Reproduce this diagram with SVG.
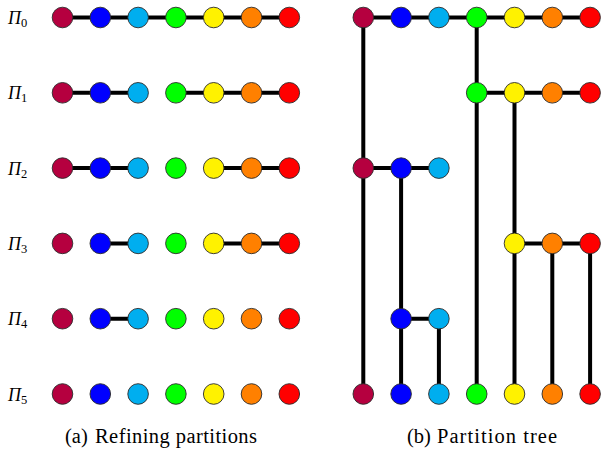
<svg xmlns="http://www.w3.org/2000/svg" width="603" height="457" viewBox="0 0 603 457">
<style>
.e{stroke:#000;stroke-width:4;fill:none}
circle{stroke:#2a2a2a;stroke-width:0.9}
.c1{fill:#B5003F}.c2{fill:#0000FF}.c3{fill:#00AEEF}.c4{fill:#00FF00}.c5{fill:#FFF200}.c6{fill:#FF8000}.c7{fill:#FF0000}
text{font-family:'Liberation Serif','Times New Roman','DejaVu Serif',Times,serif;fill:#000}
</style>
<g id="connectors">
<path class="e" d="M62.5 17.5H289.3"/>
<path class="e" d="M62.5 92.8H138.1M175.9 92.8H289.3"/>
<path class="e" d="M62.5 168.1H138.1M213.7 168.1H289.3"/>
<path class="e" d="M100.3 243.4H138.1M213.7 243.4H289.3"/>
<path class="e" d="M100.3 318.7H138.1"/>
<path class="e" d="M363.3 17.5H590.1"/>
<path class="e" d="M476.7 92.8H590.1"/>
<path class="e" d="M363.3 168.1H438.9"/>
<path class="e" d="M514.5 243.4H590.1"/>
<path class="e" d="M401.1 318.7H438.9"/>
<path class="e" d="M363.3 17.5V394M476.7 17.5V394M401.1 168.1V394M514.5 92.8V394M438.9 318.7V394M552.3 243.4V394M590.1 243.4V394"/>
</g>
<g id="labels">
<g font-style="italic" font-size="18">
<text x="8" y="24">Π<tspan font-style="normal" font-size="12.5" dy="3">0</tspan></text>
<text x="8" y="99.3">Π<tspan font-style="normal" font-size="12.5" dy="3">1</tspan></text>
<text x="8" y="174.6">Π<tspan font-style="normal" font-size="12.5" dy="3">2</tspan></text>
<text x="8" y="249.9">Π<tspan font-style="normal" font-size="12.5" dy="3">3</tspan></text>
<text x="8" y="325.2">Π<tspan font-style="normal" font-size="12.5" dy="3">4</tspan></text>
<text x="8" y="400.5">Π<tspan font-style="normal" font-size="12.5" dy="3">5</tspan></text>
</g>
<g font-size="20.5">
<text x="65" y="443">(a)</text>
<text x="95" y="443" textLength="162">Refining partitions</text>
<text x="407" y="443">(b)</text>
<text x="437" y="443" textLength="120">Partition tree</text>
</g>
</g>
<g id="left-nodes">
<g id="a0-1"><circle class="c1" cx="62.5" cy="17.5" r="10.3"/></g>
<g id="a0-2"><circle class="c2" cx="100.3" cy="17.5" r="10.3"/></g>
<g id="a0-3"><circle class="c3" cx="138.1" cy="17.5" r="10.3"/></g>
<g id="a0-4"><circle class="c4" cx="175.9" cy="17.5" r="10.3"/></g>
<g id="a0-5"><circle class="c5" cx="213.7" cy="17.5" r="10.3"/></g>
<g id="a0-6"><circle class="c6" cx="251.5" cy="17.5" r="10.3"/></g>
<g id="a0-7"><circle class="c7" cx="289.3" cy="17.5" r="10.3"/></g>
<g id="a1-1"><circle class="c1" cx="62.5" cy="92.8" r="10.3"/></g>
<g id="a1-2"><circle class="c2" cx="100.3" cy="92.8" r="10.3"/></g>
<g id="a1-3"><circle class="c3" cx="138.1" cy="92.8" r="10.3"/></g>
<g id="a1-4"><circle class="c4" cx="175.9" cy="92.8" r="10.3"/></g>
<g id="a1-5"><circle class="c5" cx="213.7" cy="92.8" r="10.3"/></g>
<g id="a1-6"><circle class="c6" cx="251.5" cy="92.8" r="10.3"/></g>
<g id="a1-7"><circle class="c7" cx="289.3" cy="92.8" r="10.3"/></g>
<g id="a2-1"><circle class="c1" cx="62.5" cy="168.1" r="10.3"/></g>
<g id="a2-2"><circle class="c2" cx="100.3" cy="168.1" r="10.3"/></g>
<g id="a2-3"><circle class="c3" cx="138.1" cy="168.1" r="10.3"/></g>
<g id="a2-4"><circle class="c4" cx="175.9" cy="168.1" r="10.3"/></g>
<g id="a2-5"><circle class="c5" cx="213.7" cy="168.1" r="10.3"/></g>
<g id="a2-6"><circle class="c6" cx="251.5" cy="168.1" r="10.3"/></g>
<g id="a2-7"><circle class="c7" cx="289.3" cy="168.1" r="10.3"/></g>
<g id="a3-1"><circle class="c1" cx="62.5" cy="243.4" r="10.3"/></g>
<g id="a3-2"><circle class="c2" cx="100.3" cy="243.4" r="10.3"/></g>
<g id="a3-3"><circle class="c3" cx="138.1" cy="243.4" r="10.3"/></g>
<g id="a3-4"><circle class="c4" cx="175.9" cy="243.4" r="10.3"/></g>
<g id="a3-5"><circle class="c5" cx="213.7" cy="243.4" r="10.3"/></g>
<g id="a3-6"><circle class="c6" cx="251.5" cy="243.4" r="10.3"/></g>
<g id="a3-7"><circle class="c7" cx="289.3" cy="243.4" r="10.3"/></g>
<g id="a4-1"><circle class="c1" cx="62.5" cy="318.7" r="10.3"/></g>
<g id="a4-2"><circle class="c2" cx="100.3" cy="318.7" r="10.3"/></g>
<g id="a4-3"><circle class="c3" cx="138.1" cy="318.7" r="10.3"/></g>
<g id="a4-4"><circle class="c4" cx="175.9" cy="318.7" r="10.3"/></g>
<g id="a4-5"><circle class="c5" cx="213.7" cy="318.7" r="10.3"/></g>
<g id="a4-6"><circle class="c6" cx="251.5" cy="318.7" r="10.3"/></g>
<g id="a4-7"><circle class="c7" cx="289.3" cy="318.7" r="10.3"/></g>
<g id="a5-1"><circle class="c1" cx="62.5" cy="394" r="10.3"/></g>
<g id="a5-2"><circle class="c2" cx="100.3" cy="394" r="10.3"/></g>
<g id="a5-3"><circle class="c3" cx="138.1" cy="394" r="10.3"/></g>
<g id="a5-4"><circle class="c4" cx="175.9" cy="394" r="10.3"/></g>
<g id="a5-5"><circle class="c5" cx="213.7" cy="394" r="10.3"/></g>
<g id="a5-6"><circle class="c6" cx="251.5" cy="394" r="10.3"/></g>
<g id="a5-7"><circle class="c7" cx="289.3" cy="394" r="10.3"/></g>
</g>
<g id="right-nodes">
<g id="b0-1"><circle class="c1" cx="363.3" cy="17.5" r="10.3"/></g>
<g id="b0-2"><circle class="c2" cx="401.1" cy="17.5" r="10.3"/></g>
<g id="b0-3"><circle class="c3" cx="438.9" cy="17.5" r="10.3"/></g>
<g id="b0-4"><circle class="c4" cx="476.7" cy="17.5" r="10.3"/></g>
<g id="b0-5"><circle class="c5" cx="514.5" cy="17.5" r="10.3"/></g>
<g id="b0-6"><circle class="c6" cx="552.3" cy="17.5" r="10.3"/></g>
<g id="b0-7"><circle class="c7" cx="590.1" cy="17.5" r="10.3"/></g>
<g id="b1-4"><circle class="c4" cx="476.7" cy="92.8" r="10.3"/></g>
<g id="b1-5"><circle class="c5" cx="514.5" cy="92.8" r="10.3"/></g>
<g id="b1-6"><circle class="c6" cx="552.3" cy="92.8" r="10.3"/></g>
<g id="b1-7"><circle class="c7" cx="590.1" cy="92.8" r="10.3"/></g>
<g id="b2-1"><circle class="c1" cx="363.3" cy="168.1" r="10.3"/></g>
<g id="b2-2"><circle class="c2" cx="401.1" cy="168.1" r="10.3"/></g>
<g id="b2-3"><circle class="c3" cx="438.9" cy="168.1" r="10.3"/></g>
<g id="b3-5"><circle class="c5" cx="514.5" cy="243.4" r="10.3"/></g>
<g id="b3-6"><circle class="c6" cx="552.3" cy="243.4" r="10.3"/></g>
<g id="b3-7"><circle class="c7" cx="590.1" cy="243.4" r="10.3"/></g>
<g id="b4-2"><circle class="c2" cx="401.1" cy="318.7" r="10.3"/></g>
<g id="b4-3"><circle class="c3" cx="438.9" cy="318.7" r="10.3"/></g>
<g id="b5-1"><circle class="c1" cx="363.3" cy="394" r="10.3"/></g>
<g id="b5-2"><circle class="c2" cx="401.1" cy="394" r="10.3"/></g>
<g id="b5-3"><circle class="c3" cx="438.9" cy="394" r="10.3"/></g>
<g id="b5-4"><circle class="c4" cx="476.7" cy="394" r="10.3"/></g>
<g id="b5-5"><circle class="c5" cx="514.5" cy="394" r="10.3"/></g>
<g id="b5-6"><circle class="c6" cx="552.3" cy="394" r="10.3"/></g>
<g id="b5-7"><circle class="c7" cx="590.1" cy="394" r="10.3"/></g>
</g>
</svg>
